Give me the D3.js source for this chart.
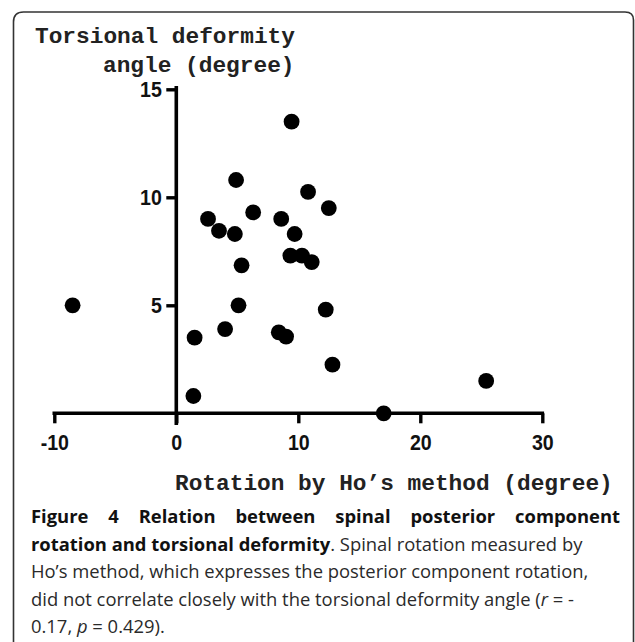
<!DOCTYPE html>
<html>
<head>
<meta charset="utf-8">
<script src="https://cdn.jsdelivr.net/npm/d3@7"></script>
<style>
  html, body { margin: 0; padding: 0; background: #fff; }
  svg { display: block; }
</style>
</head>
<body>
<svg id="chart" width="635" height="642"></svg>
<script>
// ---- data ----
const rotationHo = [-8.5, 1.5, 1.4, 4.0, 5.1, 8.4, 4.9, 2.6, 3.5, 4.8, 6.3, 5.35, 8.6,
                    9.45, 10.8, 12.5, 9.7, 9.35, 10.3, 11.1, 12.25, 9.0, 12.8, 25.4, 17.0];
const torsionAngle = [5.0, 3.5, 0.8, 3.9, 5.0, 3.75, 10.8, 9.0, 8.45, 8.3, 9.3, 6.85, 9.0,
                      13.5, 10.25, 9.5, 8.3, 7.3, 7.3, 7.0, 4.8, 3.55, 2.25, 1.5, 0.0];
const xTicks = [-10, 0, 10, 20, 30];
const yTicks = [5, 10, 15];
const xDomain = [-10, 30];
const yDomain = [0, 15];
const yTitleLines = ["Torsional deformity", "angle (degree)"];
const xTitle = "Rotation by Ho\u2019s method (degree)";
const captionBold1 = "Figure 4 Relation between spinal posterior component";
const captionBold2 = "rotation and torsional deformity";
const captionRest2 = ". Spinal rotation measured by";
const captionLine3 = "Ho\u2019s method, which expresses the posterior component rotation,";

const svg = d3.select("#chart");

// frame
svg.append("path")
  .attr("d", "M13.5,642 V22 Q13.5,12 23.5,12 H625 Q633.5,12 633.5,20 V642")
  .attr("fill", "none").attr("stroke", "#333").attr("stroke-width", 1.6);

const x = d3.scaleLinear().domain(xDomain).range([54.3, 542.3]);
const y = d3.scaleLinear().domain(yDomain).range([413.3, 89.3]);

const tickFont = "'Liberation Sans', Arial, Helvetica, sans-serif";
const narrow = 0.87;

// x axis
const gx = svg.append("g").attr("transform", `translate(0,${y(0)})`)
  .call(d3.axisBottom(x).tickValues(xTicks).tickSize(10).tickSizeOuter(0).tickPadding(10.4).tickFormat(d => String(d)));
// y axis
const gy = svg.append("g").attr("transform", `translate(${x(0)},0)`)
  .call(d3.axisLeft(y).tickValues(yTicks).tickSize(10).tickSizeOuter(0).tickPadding(4.5).tickFormat(d => String(d)));

[gx, gy].forEach(g => {
  g.select(".domain").attr("stroke", "#000").attr("stroke-width", 3.6).attr("stroke-linecap", "square");
  g.selectAll(".tick line").attr("stroke", "#000").attr("stroke-width", 3.4);
  g.selectAll(".tick text").attr("fill", "#111")
    .style("font-family", tickFont).style("font-weight", "bold").style("font-size", "22.5px");
});
// condensed look of the tick numerals
gx.selectAll(".tick text").attr("transform", `scale(${narrow},1)`);
gy.selectAll(".tick text").attr("x", -14.5 / narrow).attr("transform", `scale(${narrow},1)`);

gx.select(".domain").attr("d", `M${x(xDomain[0])},0H${x(xDomain[1])}`);
gy.select(".domain").attr("d", `M0,${y(yDomain[0]) + 10}V${y(yDomain[1]) - 1.5}`);

// points
svg.append("g").selectAll("circle")
  .data(rotationHo.map((v, i) => [v, torsionAngle[i]]))
  .join("circle")
  .attr("cx", d => x(d[0])).attr("cy", d => y(d[1]))
  .attr("r", 7.9).attr("fill", "#000");

// axis titles
const monoFont = "'Liberation Mono', 'Courier New', Courier, monospace";
svg.append("text").attr("x", 35).attr("y", 43).text(yTitleLines[0])
  .style("font-family", monoFont).style("font-weight", "bold").style("font-size", "22.8px").attr("fill", "#222");
svg.append("text").attr("x", 103).attr("y", 72).text(yTitleLines[1])
  .style("font-family", monoFont).style("font-weight", "bold").style("font-size", "22.8px").attr("fill", "#222");
svg.append("text").attr("x", 175).attr("y", 490).text(xTitle)
  .style("font-family", monoFont).style("font-weight", "bold").style("font-size", "22.8px").attr("fill", "#222");

// caption
const capFont = "'Open Sans', 'Noto Sans', sans-serif";
const capSize = "18.4px";
const capX = 31, capRight = 620;
const capG = svg.append("g").style("font-family", capFont).style("font-size", capSize);
const baseY = [523, 550.5, 578, 605.5, 633];

// line 1: justified bold words
const words1 = captionBold1.split(" ");
const tmp = words1.map(w => capG.append("text").attr("y", baseY[0]).text(w)
  .style("font-weight", "bold").attr("fill", "#111"));
const widths = tmp.map(t => t.node().getComputedTextLength());
const total = d3.sum(widths);
const gap = (capRight - capX - total) / (words1.length - 1);
let cx = capX;
tmp.forEach((t, i) => { t.attr("x", cx); cx += widths[i] + gap; });

// line 2
const l2 = capG.append("text").attr("x", capX).attr("y", baseY[1]).attr("fill", "#2a2a2a");
l2.append("tspan").text(captionBold2).style("font-weight", "bold").attr("fill", "#111");
l2.append("tspan").text(captionRest2);

// line 3
capG.append("text").attr("x", capX).attr("y", baseY[2]).attr("fill", "#2a2a2a").text(captionLine3);

// line 4
const l4 = capG.append("text").attr("x", capX).attr("y", baseY[3]).attr("fill", "#2a2a2a");
l4.append("tspan").text("did not correlate closely with the torsional deformity angle (");
l4.append("tspan").text("r").style("font-style", "italic");
l4.append("tspan").text(" = -");

// line 5
const l5 = capG.append("text").attr("x", capX).attr("y", baseY[4]).attr("fill", "#2a2a2a");
l5.append("tspan").text("0.17, ");
l5.append("tspan").text("p").style("font-style", "italic");
l5.append("tspan").text(" = 0.429).");
</script>
</body>
</html>
